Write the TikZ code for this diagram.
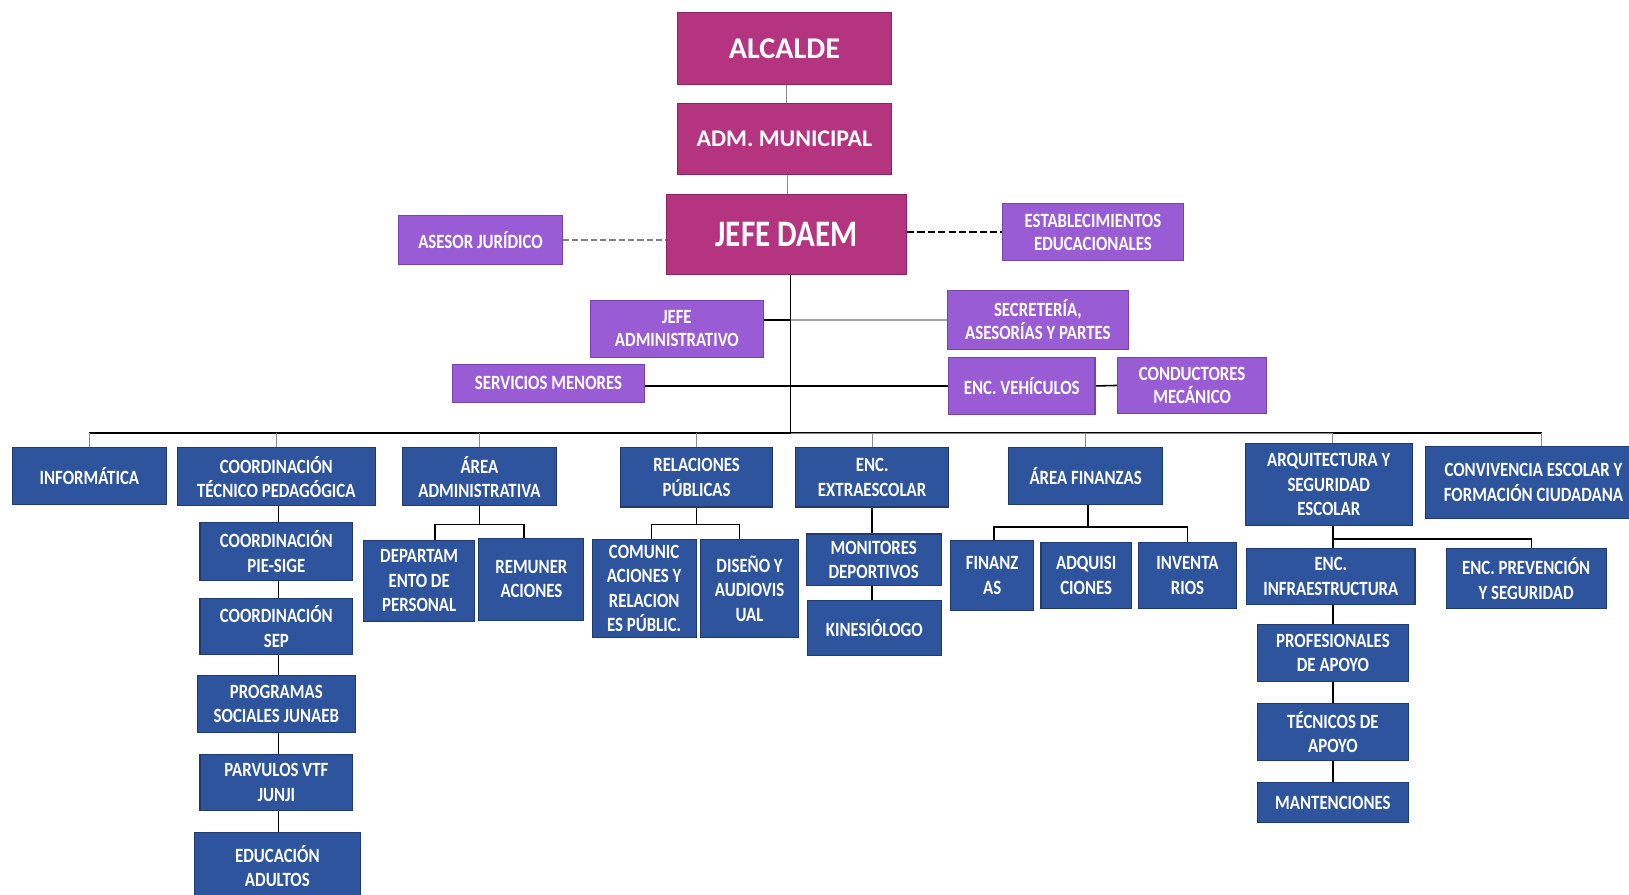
\documentclass[tikz,border=0pt]{standalone}
\usepackage{fontspec}
\setmainfont{Carlito}
\newfontfamily\condf{Carlito}[FakeStretch=0.83]
\usetikzlibrary{backgrounds}
\definecolor{magc}{RGB}{180,52,128}
\definecolor{magd}{RGB}{140,36,100}
\definecolor{purc}{RGB}{153,92,212}
\definecolor{purd}{RGB}{118,68,176}
\definecolor{bluc}{RGB}{46,84,158}
\definecolor{blud}{RGB}{30,58,112}
\newcommand\obox[7]{\node[#1,minimum width=#5pt,minimum height=#6pt] (#2) at (#3,#4) {#7};}
\begin{document}
\begin{tikzpicture}[x=1pt,y=-1pt,
  box/.style={draw,line width=1pt,inner sep=0pt,align=center,text=white},
  mag/.style={box,fill=magc,draw=magd},
  pur/.style={box,fill=purc,draw=purd,font=\condf\bfseries\fontsize{19.5}{22}\selectfont},
  blu/.style={box,fill=bluc,draw=blud,font=\condf\bfseries\fontsize{19.5}{23.5}\selectfont},
  bus/.style={line width=1.6pt,black},
  drop/.style={line width=1pt,black!45},
  sub/.style={line width=1.5pt,black}]
\useasboundingbox (0,0) rectangle (1568,861);
% top
\obox{mag,font=\bfseries\fontsize{29}{32}\selectfont}{alc}{755}{46.5}{206}{69}{ALCALDE}
\obox{mag,font=\bfseries\fontsize{23}{26}\selectfont}{adm}{755}{134}{206}{68}{ADM. MUNICIPAL}
\obox{mag,font=\condf\bfseries\fontsize{36}{40}\selectfont}{jefe}{757}{225.5}{231}{77}{JEFE DAEM}
\obox{pur}{ases}{462.5}{231}{157}{48}{ASESOR JURÍDICO}
\obox{pur}{estab}{1052}{223.5}{174}{55}{ESTABLECIMIENTOS\\EDUCACIONALES}
\obox{pur}{jadm}{651.5}{316.5}{167}{55}{JEFE\\ADMINISTRATIVO}
\obox{pur}{secr}{999}{308}{174}{56}{SECRETERÍA,\\ASESORÍAS Y PARTES}
\obox{pur}{serv}{528}{369}{184}{36}{SERVICIOS MENORES}
\obox{pur}{veh}{983.5}{371.5}{141}{55}{ENC. VEHÍCULOS}
\obox{pur}{cond}{1147.5}{371}{143}{54}{CONDUCTORES\\MECÁNICO}
% row 2
\obox{blu}{inf}{86}{458.5}{148}{55}{INFORMÁTICA}
\obox{blu}{ctp}{266}{459}{190}{56}{COORDINACIÓN\\TÉCNICO PEDAGÓGICA}
\obox{blu}{aadm}{461.5}{459}{149}{56}{ÁREA\\ADMINISTRATIVA}
\obox{blu}{relp}{670.5}{459.5}{147}{57}{RELACIONES\\PÚBLICAS}
\obox{blu}{extra}{839.5}{459.5}{147}{57}{ENC.\\EXTRAESCOLAR}
\obox{blu}{afin}{1045}{458.5}{148}{55}{ÁREA FINANZAS}
\obox{blu}{arq}{1279}{466.5}{161}{79}{ARQUITECTURA Y\\SEGURIDAD\\ESCOLAR}
\obox{blu}{conv}{1476}{464.5}{208}{69}{CONVIVENCIA ESCOLAR Y\\FORMACIÓN CIUDADANA}
% ctp column
\obox{blu}{pie}{266}{531}{147}{56}{COORDINACIÓN\\PIE-SIGE}
\obox{blu}{sep}{266}{603}{147}{54}{COORDINACIÓN\\SEP}
\obox{blu}{prog}{266}{677.5}{152}{55}{PROGRAMAS\\SOCIALES JUNAEB}
\obox{blu}{parv}{266}{753}{147}{54}{PARVULOS VTF\\JUNJI}
\obox{blu}{edu}{267}{833.5}{160}{65}{EDUCACIÓN\\ADULTOS}
% area admin
\obox{blu}{dper}{403.5}{559}{107}{78}{DEPARTAM\\ENTO DE\\PERSONAL}
\obox{blu}{rem}{511.5}{557.5}{101}{79}{REMUNER\\ACIONES}
% relaciones
\obox{blu}{com}{620}{566.5}{100}{95}{COMUNIC\\ACIONES Y\\RELACION\\ES PÚBLIC.}
\obox{blu}{dis}{721.5}{566.5}{95}{95}{DISEÑO Y\\AUDIOVIS\\UAL}
% extraescolar
\obox{blu}{mon}{841}{539}{130}{50}{MONITORES\\DEPORTIVOS}
\obox{blu}{kin}{841.5}{604.5}{129}{53}{KINESIÓLOGO}
% finanzas
\obox{blu}{fin}{955}{554}{80}{68}{FINANZ\\AS}
\obox{blu}{adq}{1045.5}{554}{87}{64}{ADQUISI\\CIONES}
\obox{blu}{inv}{1143}{554}{94}{64}{INVENTA\\RIOS}
% arquitectura
\obox{blu}{infra}{1281}{555}{162}{54}{ENC.\\INFRAESTRUCTURA}
\obox{blu}{prev}{1469}{557}{154}{58}{ENC. PREVENCIÓN\\Y SEGURIDAD}
\obox{blu}{prof}{1283}{628.5}{146}{55}{PROFESIONALES\\DE APOYO}
\obox{blu}{tec}{1283}{704.5}{146}{55}{TÉCNICOS DE\\APOYO}
\obox{blu}{mant}{1283}{772.5}{146}{39}{MANTENCIONES}
\begin{scope}[on background layer]
\fill[white] (0,0) rectangle (1568,861);
\coordinate (sp) at (761,417);
\draw[drop] ([xshift=2pt]alc.south) -- ([xshift=2pt]adm.north);
\draw[drop] ([xshift=3pt]adm.south) -- ([xshift=3pt]adm.south |- jefe.north);
\draw[bus] (jefe.south -| sp) -- (sp);
\draw[gray,line width=2.4pt,dash pattern=on 6pt off 3pt] (ases.east) -- (ases.east -| jefe.west);
\draw[black,line width=1.6pt,dash pattern=on 7pt off 3pt] (estab.west -| jefe.east) -- (estab.west);
\draw[sub] (secr.west -| jadm.east) -- (secr.west -| sp);
\draw[black!35,line width=2.8pt] (secr.west -| sp) -- (secr.west);
\draw[sub] (veh.west -| serv.east) -- (veh.west);
\draw[sub] (veh.east) -- (cond.west);
% main bus
\draw[bus] (inf.north |- sp) -- ([xshift=8pt]conv.north |- sp);
\foreach \n in {inf,ctp,aadm,relp,extra,afin}{\draw[drop] (\n.north |- sp) -- (\n.north);}
\draw[drop] (arq.north -| prof.north) |- (sp);
\draw[drop] ([xshift=8pt]conv.north) -- ([xshift=8pt]conv.north |- sp);
% ctp column
\draw[sub] ([xshift=2pt]ctp.south) -- ([xshift=2pt]ctp.south |- edu.north);
% area admin
\coordinate (aa) at (461,505);
\draw[sub] (aadm.south) -- (aadm.south |- aa);
\draw[sub] ([xshift=15pt]dper.north) -- ([xshift=15pt]dper.north |- aa) -- ([xshift=-7pt]rem.north |- aa) -- ([xshift=-7pt]rem.north);
% relaciones
\draw[sub] (relp.south) -- (relp.south |- aa);
\draw[sub] ([xshift=7pt]com.north) -- ([xshift=7pt]com.north |- aa) -- ([xshift=-9.5pt]dis.north |- aa) -- ([xshift=-9.5pt]dis.north);
% extraescolar
\draw[sub] (extra.south) -- (extra.south |- kin.north);
% finanzas
\coordinate (fa) at (1047,507);
\draw[sub] ([xshift=2pt]afin.south) -- (fa);
\draw[sub] ([xshift=2pt]fin.north) -- ([xshift=2pt]fin.north |- fa) -- (inv.north |- fa) -- (inv.north);
% arquitectura
\coordinate (ra) at (1283,519);
\draw[sub] (arq.south -| prof.north) -- (mant.north);
\draw[sub] (ra) -- ([xshift=5pt]prev.north |- ra) -- ([xshift=5pt]prev.north);
\end{scope}
\end{tikzpicture}
\end{document}
